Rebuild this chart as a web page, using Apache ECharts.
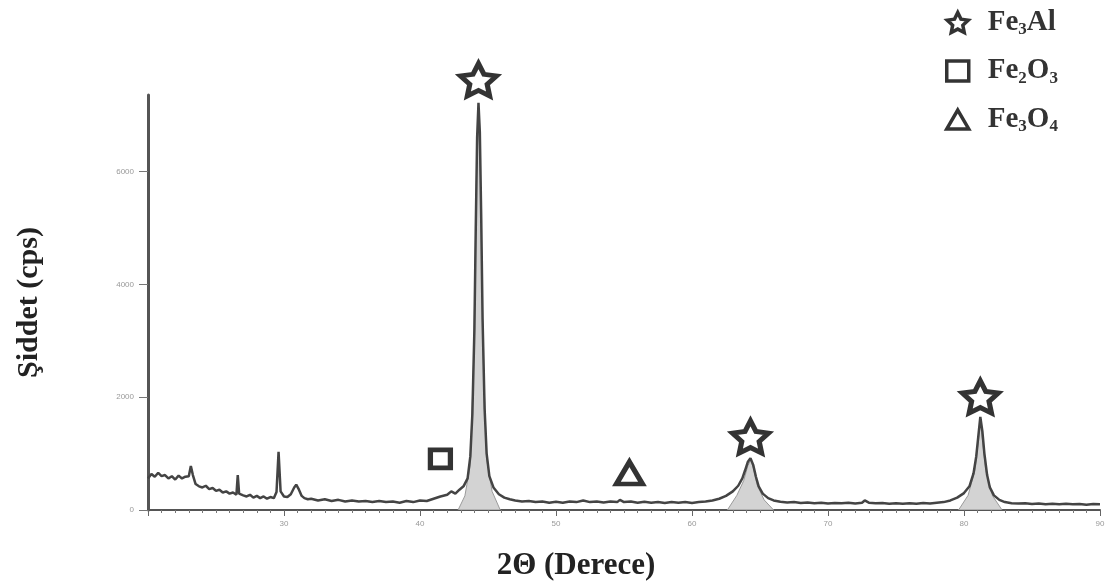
<!DOCTYPE html>
<html>
<head>
<meta charset="utf-8">
<script src="https://cdn.jsdelivr.net/npm/echarts@6/dist/echarts.min.js"></script>
<style>
  html, body { margin: 0; padding: 0; background: #fff; }
  #chart { width: 1108px; height: 587px; }
</style>
</head>
<body>
<div id="chart"></div>
<script>
// XRD scan: 2-theta (degrees) and measured counts
const scanAngles = [
  20.0, 20.25, 20.5, 20.75, 21.0, 21.25, 21.5, 21.75, 22.0, 22.25, 22.5, 22.75, 23.0, 23.15, 23.3, 23.5, 23.75,
  24.0, 24.25, 24.5, 24.75, 25.0, 25.25, 25.5, 25.75, 26.0, 26.25, 26.5, 26.6, 26.7, 27.0, 27.25, 27.5, 27.75,
  28.0, 28.25, 28.5, 28.75, 29.0, 29.25, 29.45, 29.6, 29.75, 30.0, 30.25, 30.5, 30.75, 30.9, 31.1, 31.3, 31.5, 31.75,
  32.0, 32.5, 33.0, 33.5, 34.0, 34.5, 35.0, 35.5, 36.0, 36.5, 37.0, 37.5, 38.0, 38.5, 39.0, 39.5, 40.0, 40.5,
  41.0, 41.5, 42.0, 42.3, 42.6, 42.9, 43.2, 43.5, 43.7, 43.85, 44.0, 44.1, 44.2, 44.3, 44.4, 44.5, 44.6, 44.75,
  44.9, 45.1, 45.4, 45.8, 46.2, 46.6, 47.0, 47.5, 48.0, 48.5, 49.0, 49.5, 50.0, 50.5, 51.0, 51.5, 52.0, 52.5,
  53.0, 53.5, 54.0, 54.5, 54.7, 55.0, 55.5, 56.0, 56.5, 57.0, 57.5, 58.0, 58.5, 59.0, 59.5, 60.0, 60.5, 61.0,
  61.5, 62.0, 62.5, 63.0, 63.4, 63.7, 63.9, 64.1, 64.3, 64.5, 64.7, 64.9, 65.2, 65.6, 66.0, 66.5, 67.0, 67.5,
  68.0, 68.5, 69.0, 69.5, 70.0, 70.5, 71.0, 71.5, 72.0, 72.5, 72.7, 73.0, 73.5, 74.0, 74.5, 75.0, 75.5, 76.0,
  76.5, 77.0, 77.5, 78.0, 78.5, 79.0, 79.5, 80.0, 80.4, 80.7, 80.9, 81.05, 81.2, 81.35, 81.5, 81.7, 81.9, 82.2,
  82.6, 83.0, 83.5, 84.0, 84.5, 85.0, 85.5, 86.0, 86.5, 87.0, 87.5, 88.0, 88.5, 89.0, 89.5, 90.0
];
const scanCounts = [
  560, 640, 590, 660, 600, 620, 560, 600, 540, 610, 560, 590, 600, 780, 620, 460, 420,
  400, 430, 370, 390, 340, 360, 310, 330, 290, 310, 270, 620, 290, 260, 240, 270, 220,
  250, 210, 240, 200, 230, 210, 320, 1030, 330, 240, 230, 280, 400, 450, 360, 250, 210, 190,
  200, 170, 190, 160, 180, 150, 170, 150, 160, 140, 160, 140, 150, 130, 160, 140, 170, 160,
  200, 240, 270, 330, 290, 360, 420, 560, 950, 1700, 3200, 5000, 6600, 7220, 6700, 5200, 3400, 1800,
  1000, 600, 400, 280, 220, 190, 170, 150, 160, 140, 150, 130, 145, 130, 150, 140, 170, 140,
  150, 135, 150, 140, 180, 140, 150, 130, 145, 130, 140, 125, 140, 130, 140, 125, 140, 150,
  170, 200, 250, 330, 430, 560, 700, 850, 920, 800, 590, 420, 290, 210, 170, 145, 135, 140,
  125, 135, 120, 130, 115, 125, 120, 130, 115, 130, 170, 130, 120, 125, 110, 120, 110, 120,
  110, 125, 115, 130, 140, 170, 220, 300, 420, 650, 950, 1300, 1650, 1400, 1000, 620, 400, 260,
  180, 140, 120, 115, 120, 105, 115, 100, 110, 100, 110, 100, 105, 95, 105, 100
];

// Fitted peak profiles (shaded under the reflections)
const fitAngles = [
  42.8, 43.3, 43.7, 43.95, 44.15, 44.3, 44.45, 44.65, 44.9, 45.3, 45.9, null,
  62.6, 63.3, 63.8, 64.1, 64.3, 64.5, 64.8, 65.3, 66.0, null,
  79.6, 80.3, 80.8, 81.05, 81.2, 81.35, 81.6, 82.1, 82.8
];
const fitCounts = [
  0, 250, 800, 2700, 5900, 7000, 5900, 2700, 900, 330, 0, null,
  0, 260, 520, 780, 880, 760, 440, 180, 0, null,
  0, 260, 700, 1200, 1560, 1250, 700, 250, 0
];

// Phase markers placed above the reflections
const fe3alMarks = [[44.3, 7630], [64.3, 1296], [81.2, 2006]];
const fe2o3Marks = [[41.5, 905]];
const fe3o4Marks = [[55.4, 657]];
const phaseNames = ['Fe3Al', 'Fe2O3', 'Fe3O4'];
const phaseLabels = {
  'Fe3Al': '{t|Fe}{s|3}{t|Al}',
  'Fe2O3': '{t|Fe}{s|2}{t|O}{s|3}',
  'Fe3O4': '{t|Fe}{s|3}{t|O}{s|4}'
};

// Axis ticks
const yTickValues = [0, 2000, 4000, 6000];
const xLabelValues = [30, 40, 50, 60, 70, 80, 90];

const starPath = 'path://M50 0 L64.5 30 L97.55 34.55 L73 58 L79.39 90.45 L50 75 L20.61 90.45 L27 58 L2.45 34.55 L35.5 30 Z';
const trianglePath = 'path://M50 0 L100 86 L0 86 Z';

const zip = (xs, ys) => xs.map((x, i) => (x === null ? [null, null] : [x, ys[i]]));

const serif = '"Liberation Serif", "DejaVu Serif", serif';
const markStyle = { color: '#ffffff', borderColor: '#000000', borderWidth: 5 };

const chart = echarts.init(document.getElementById('chart'));
chart.setOption({
  animation: false,
  backgroundColor: '#ffffff',
  grid: { left: 148, right: 8, top: 95, bottom: 77 },
  legend: {
    data: phaseNames,
    orient: 'vertical',
    left: 940,
    top: 3,
    itemWidth: 22,
    itemHeight: 20,
    itemGap: 18,
    itemStyle: { borderWidth: 3.5, borderColor: '#000' },
    formatter: name => phaseLabels[name],
    textStyle: {
      padding: [0, 0, 0, 14],
      rich: {
        t: { fontFamily: serif, fontWeight: 'bold', fontSize: 29, color: '#333', lineHeight: 32 },
        s: { fontFamily: serif, fontWeight: 'bold', fontSize: 17, color: '#333', lineHeight: 32, verticalAlign: 'bottom', padding: [10, 0, 0, 0] }
      }
    }
  },
  xAxis: {
    type: 'value',
    min: 20,
    max: 90,
    interval: 10,
    name: '2\u0398 (Derece)',
    nameLocation: 'middle',
    nameGap: 40,
    nameTextStyle: { fontFamily: serif, fontWeight: 'bold', fontSize: 31, color: '#222', padding: [0, 96, 0, 0] },
    axisLine: { lineStyle: { color: '#555', width: 2 } },
    axisTick: { length: 6, lineStyle: { color: '#666', width: 1 } },
    minorTick: { show: true, splitNumber: 10, length: 3, lineStyle: { color: '#777' } },
    axisLabel: {
      customValues: xLabelValues,
      fontSize: 8, color: '#999', margin: 10,
      formatter: v => String(v)
    },
    splitLine: { show: false }
  },
  yAxis: {
    type: 'value',
    min: 0,
    max: 7360,
    name: '\u015eiddet (cps)',
    nameLocation: 'middle',
    nameGap: 104,
    nameRotate: 90,
    nameTextStyle: { fontFamily: serif, fontWeight: 'bold', fontSize: 30, color: '#222' },
    axisLine: { show: true, lineStyle: { color: '#555', width: 3 } },
    axisTick: { show: true, customValues: yTickValues, length: 9, lineStyle: { color: '#777', width: 1 } },
    axisLabel: { customValues: yTickValues, fontSize: 8, color: '#999', margin: 14, formatter: v => String(v) },
    splitLine: { show: false }
  },
  series: [
    {
      name: 'fit',
      type: 'line',
      data: zip(fitAngles, fitCounts),
      showSymbol: false,
      connectNulls: false,
      lineStyle: { color: '#9a9a9a', width: 1 },
      areaStyle: { color: '#c8c8c8', opacity: 0.8 },
      z: 1
    },
    {
      name: 'scan',
      type: 'line',
      data: zip(scanAngles, scanCounts),
      showSymbol: false,
      lineStyle: { color: '#444', width: 2.5 },
      z: 2
    },
    {
      name: 'Fe3Al',
      type: 'scatter',
      data: fe3alMarks,
      symbol: starPath,
      symbolSize: [36, 34],
      symbolKeepAspect: true,
      clip: false,
      itemStyle: markStyle,
      z: 5
    },
    {
      name: 'Fe2O3',
      type: 'scatter',
      data: fe2o3Marks,
      symbol: 'rect',
      symbolSize: [20, 18],
      clip: false,
      itemStyle: markStyle,
      z: 5
    },
    {
      name: 'Fe3O4',
      type: 'scatter',
      data: fe3o4Marks,
      symbol: trianglePath,
      symbolSize: [26, 22],
      clip: false,
      itemStyle: markStyle,
      z: 5
    }
  ]
});
</script>
</body>
</html>
